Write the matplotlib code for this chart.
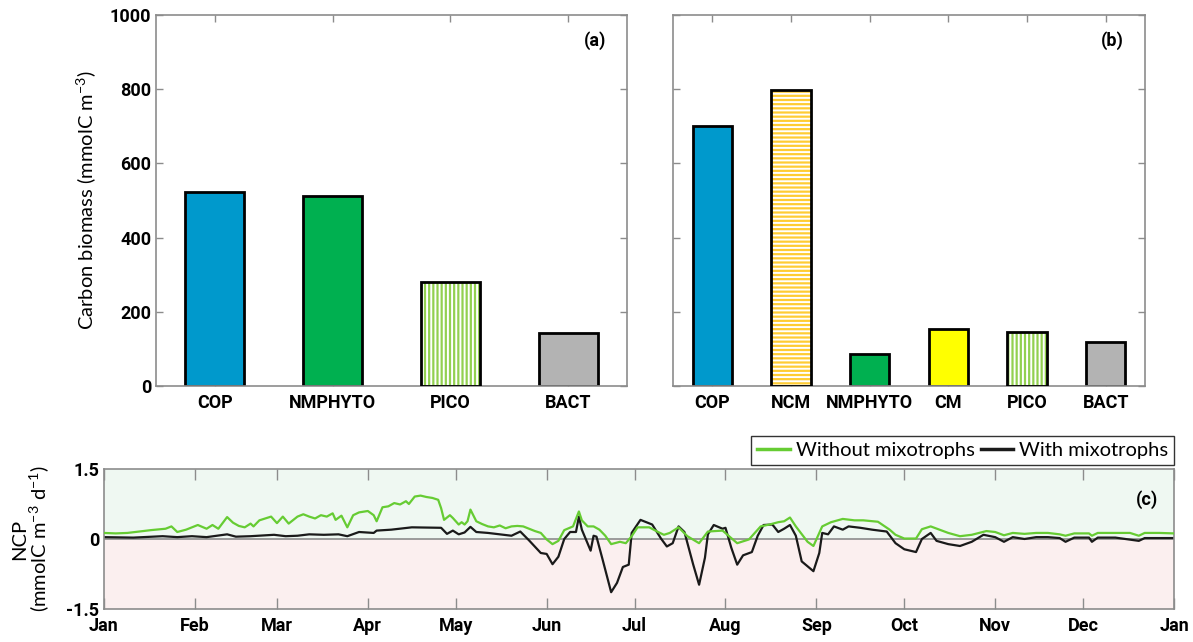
#!/usr/bin/env python3
"""Carbon biomass bars (a, b) and NCP time series (c)."""
import matplotlib
matplotlib.use("Agg")
import matplotlib.pyplot as plt

plt.rcParams["font.family"] = ["Lato", "DejaVu Sans"]
plt.rcParams["hatch.linewidth"] = 1.4
BOLD = ["Roboto", "DejaVu Sans"]

# ---- data -------------------------------------------------------------
cats_a = ["COP", "NMPHYTO", "PICO", "BACT"]
vals_a = [523, 512, 281, 143]
cols_a = ["#0099cc", "#00b050", "#92d050", "#b3b3b3"]
hatch_a = [None, None, "||||", None]

cats_b = ["COP", "NCM", "NMPHYTO", "CM", "PICO", "BACT"]
vals_b = [700, 797, 85, 154, 146, 119]
cols_b = ["#0099cc", "#ffcc33", "#00b050", "#ffff00", "#92d050", "#b3b3b3"]
hatch_b = [None, "----", None, None, "||||", None]

month_ticks = [0, 31, 59, 90, 120, 151, 181, 212, 243, 273, 304, 334, 365]
month_labels = ["Jan", "Feb", "Mar", "Apr", "May", "Jun", "Jul", "Aug",
                "Sep", "Oct", "Nov", "Dec", "Jan"]

# without mixotrophs (green)
day_wo = [0, 4, 8, 12, 16, 21, 23, 25, 28, 30, 32, 35, 37, 39, 42, 44, 46,
          48, 50, 51, 53, 57, 59, 61, 63, 66, 68, 70, 72, 74, 76, 78, 79,
          81, 83, 85, 87, 90, 92, 93, 95, 97, 99, 101, 103, 104, 106, 108,
          110, 112, 114, 115, 116, 118, 119, 121, 122, 123, 124, 125, 127,
          129, 131, 133, 135, 137, 139, 141, 143, 145, 147, 149, 151, 153,
          155, 157, 160, 162, 163, 165, 167, 169, 171, 173, 176, 178, 180,
          182, 186, 189, 191, 193, 196, 199, 203, 206, 211, 216, 220, 224,
          227, 230, 232, 234, 236, 240, 242, 245, 248, 252, 256, 259, 264,
          268, 270, 273, 277, 279, 282, 285, 288, 292, 296, 301, 304, 307,
          310, 314, 318, 322, 326, 328, 331, 336, 337, 339, 345, 350, 353,
          355, 360, 365]
ncp_wo = [0.13, 0.12, 0.13, 0.16, 0.19, 0.22, 0.27, 0.15, 0.20, 0.25, 0.30,
          0.22, 0.30, 0.22, 0.47, 0.35, 0.28, 0.25, 0.33, 0.27, 0.40, 0.48,
          0.34, 0.48, 0.33, 0.48, 0.53, 0.48, 0.44, 0.51, 0.48, 0.55, 0.41,
          0.50, 0.25, 0.51, 0.57, 0.60, 0.51, 0.38, 0.68, 0.70, 0.77, 0.74,
          0.81, 0.75, 0.91, 0.93, 0.90, 0.88, 0.84, 0.66, 0.41, 0.51, 0.45,
          0.31, 0.36, 0.31, 0.38, 0.63, 0.38, 0.32, 0.27, 0.25, 0.29, 0.23,
          0.27, 0.28, 0.27, 0.22, 0.17, 0.13, -0.01, -0.11, -0.04, 0.19,
          0.27, 0.59, 0.40, 0.27, 0.27, 0.20, 0.07, -0.11, -0.06, -0.09,
          0.06, 0.25, 0.25, 0.15, 0.09, 0.13, 0.25, 0.06, -0.09, 0.16, 0.18,
          -0.09, -0.01, 0.27, 0.31, 0.36, 0.38, 0.46, 0.27, -0.06, -0.15,
          0.27, 0.36, 0.43, 0.40, 0.40, 0.37, 0.20, 0.09, 0.01, 0.01, 0.21,
          0.27, 0.20, 0.13, 0.06, 0.09, 0.17, 0.15, 0.08, 0.13, 0.11, 0.13,
          0.13, 0.10, 0.07, 0.12, 0.12, 0.07, 0.13, 0.13, 0.13, 0.07, 0.13,
          0.13, 0.12]

# with mixotrophs (black)
day_w = [0, 10, 20, 25, 30, 35, 42, 45, 50, 58, 62, 66, 70, 75, 80, 83, 87,
         92, 93, 98, 105, 115, 117, 119, 121, 123, 125, 127, 131, 135, 139,
         142, 145, 149, 151, 153, 155, 157, 159, 161, 162, 163, 166, 167,
         168, 170, 173, 175, 177, 179, 180, 183, 187, 190, 192, 194, 196,
         198, 201, 203, 205, 206, 208, 211, 212, 214, 216, 218, 221, 223,
         225, 228, 230, 232, 234, 236, 238, 242, 244, 245, 247, 249, 252,
         254, 258, 262, 267, 270, 273, 277, 279, 282, 284, 288, 292, 296,
         300, 304, 307, 310, 314, 318, 322, 326, 328, 331, 336, 337, 339,
         345, 353, 355, 365]
ncp_w = [0.04, 0.03, 0.06, 0.04, 0.06, 0.04, 0.10, 0.05, 0.06, 0.09, 0.06,
         0.07, 0.10, 0.09, 0.10, 0.06, 0.15, 0.13, 0.18, 0.20, 0.25, 0.24,
         0.11, 0.18, 0.10, 0.14, 0.26, 0.15, 0.13, 0.10, 0.07, 0.16, -0.03,
         -0.30, -0.32, -0.54, -0.38, 0.00, 0.15, 0.15, 0.48, 0.20, -0.25,
         0.07, 0.05, -0.42, -1.14, -0.94, -0.60, -0.55, 0.13, 0.41, 0.31,
         0.01, -0.16, -0.09, 0.27, 0.15, -0.55, -0.98, -0.40, 0.10, 0.30,
         0.22, 0.24, -0.19, -0.55, -0.35, -0.28, 0.07, 0.30, 0.31, 0.15,
         0.22, 0.30, 0.07, -0.48, -0.69, -0.30, 0.13, 0.10, 0.27, 0.20,
         0.27, 0.24, 0.20, 0.16, -0.09, -0.22, -0.28, 0.00, 0.13, -0.04,
         -0.11, -0.15, -0.06, 0.09, 0.04, -0.06, 0.04, 0.00, 0.04, 0.04,
         0.02, -0.06, 0.03, 0.03, -0.06, 0.03, 0.03, -0.04, 0.02, 0.02]

# ---- figure -----------------------------------------------------------
W, H = 1193, 642
fig = plt.figure(figsize=(W / 100, H / 100), dpi=100)


def px_axes(left, top, right, bottom):
    return fig.add_axes([left / W, 1 - bottom / H, (right - left) / W,
                         (bottom - top) / H])


spine_col = "#8c8c8c"


def style_box(ax):
    for s in ax.spines.values():
        s.set_color(spine_col)
        s.set_linewidth(1.2)
    ax.tick_params(direction="in", top=True, right=True, length=5,
                   color=spine_col, width=1, labelsize=13)
    plt.setp(ax.get_xticklabels() + ax.get_yticklabels(),
             fontweight="bold", family=BOLD)


def bar_panel(ax, cats, vals, cols, hatches, tag):
    pos = list(range(1, len(cats) + 1))
    for p, v, c, h in zip(pos, vals, cols, hatches):
        if h:
            ax.bar(p, v, width=0.5, color=c, edgecolor="white", hatch=h,
                   linewidth=0, zorder=2)
            ax.bar(p, v, width=0.5, fill=False, edgecolor="black",
                   linewidth=2, zorder=3)
        else:
            ax.bar(p, v, width=0.5, color=c, edgecolor="black",
                   linewidth=2, zorder=2)
    ax.set_xlim(0.5, len(cats) + 0.5)
    ax.set_ylim(0, 1000)
    ax.set_xticks(pos)
    ax.set_xticklabels(cats)
    ax.set_yticks([0, 200, 400, 600, 800, 1000])
    style_box(ax)
    ax.tick_params(axis="x", pad=6)
    ax.text(0.955, 0.93, tag, transform=ax.transAxes, ha="right",
            va="center", fontsize=13, fontweight="bold", family=BOLD)


ax_a = px_axes(156, 15, 627, 386)
bar_panel(ax_a, cats_a, vals_a, cols_a, hatch_a, "(a)")
ax_a.set_ylabel("Carbon biomass (mmolC m$^{\\mathregular{-3}}$)",
                fontsize=14.5, labelpad=8)

ax_b = px_axes(673, 15, 1145, 386)
bar_panel(ax_b, cats_b, vals_b, cols_b, hatch_b, "(b)")
ax_b.set_yticklabels([])

# ---- NCP panel ----------------------------------------------------------
ax_c = px_axes(104, 469, 1174, 609)
ax_c.axhspan(0, 1.5, color="#eff8f2", zorder=0, linewidth=0)
ax_c.axhspan(-1.5, 0, color="#fbefef", zorder=0, linewidth=0)
ax_c.axhline(0, color="#8c8c8c", linewidth=1.2, zorder=1)
ax_c.plot(day_wo, ncp_wo, color="#66cc33", linewidth=1.6,
          label="Without mixotrophs", zorder=3)
ax_c.plot(day_w, ncp_w, color="#1a1a1a", linewidth=1.6,
          label="With mixotrophs", zorder=2)
ax_c.set_xlim(0, 365)
ax_c.set_ylim(-1.5, 1.5)
ax_c.set_xticks(month_ticks)
ax_c.set_xticklabels(month_labels)
ax_c.set_yticks([-1.5, 0, 1.5])
ax_c.set_yticklabels(["-1.5", "0", "1.5"])
style_box(ax_c)
ax_c.tick_params(axis="x", length=8, pad=6)
ax_c.tick_params(axis="y", length=0)
ax_c.set_ylabel("NCP\n(mmolC m$^{\\mathregular{-3}}$ d$^{\\mathregular{-1}}$)",
                fontsize=14.5, labelpad=10, linespacing=1.0)
ax_c.text(0.985, 0.78, "(c)", transform=ax_c.transAxes, ha="right",
          va="center", fontsize=13, fontweight="bold", family=BOLD)

leg = ax_c.legend(loc="lower right", bbox_to_anchor=(1.0, 1.03), ncol=2,
                  fontsize=14.5, frameon=True, fancybox=False,
                  handlelength=1.6, handletextpad=0.3, columnspacing=0.3,
                  borderpad=0.3, borderaxespad=0)
leg.get_frame().set_edgecolor("black")
leg.get_frame().set_linewidth(1.0)
for line in leg.get_lines():
    line.set_linewidth(2.5)

fig.savefig("out.png", dpi=100)
